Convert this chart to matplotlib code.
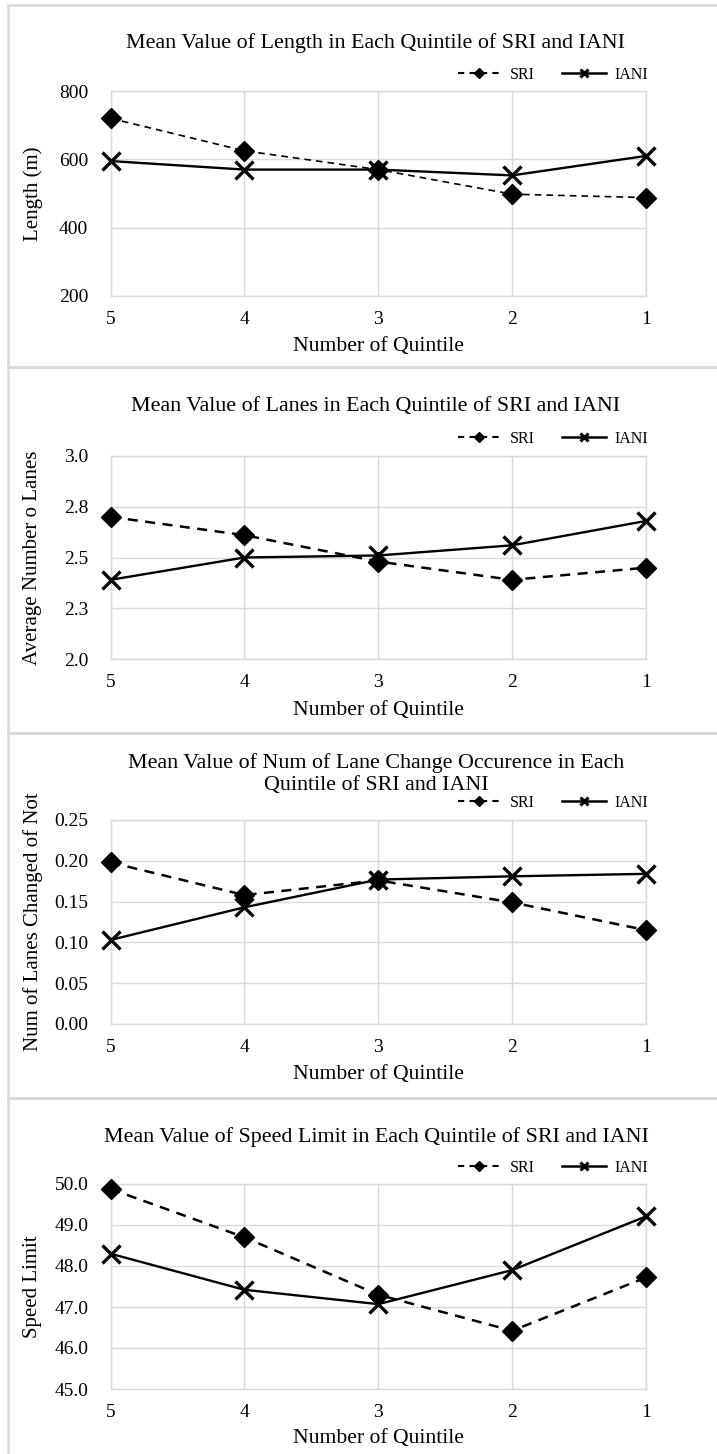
import matplotlib
matplotlib.use("Agg")
import matplotlib.pyplot as plt
from matplotlib.lines import Line2D
from matplotlib.patches import Rectangle

plt.rcParams['font.family'] = ['Liberation Serif', 'DejaVu Serif']

quintiles = ['5', '4', '3', '2', '1']

length_sri = [720, 625, 570, 498, 488]
length_iani = [595, 570, 570, 553, 610]

lanes_sri = [2.70, 2.61, 2.48, 2.39, 2.45]
lanes_iani = [2.39, 2.50, 2.51, 2.56, 2.68]

change_sri = [0.198, 0.158, 0.176, 0.149, 0.115]
change_iani = [0.103, 0.143, 0.177, 0.181, 0.184]

speed_sri = [49.88, 48.70, 47.30, 46.42, 47.72]
speed_iani = [48.30, 47.42, 47.07, 47.90, 49.21]

titles = ["Mean Value of Length in Each Quintile of SRI and IANI",
          "Mean Value of Lanes in Each Quintile of SRI and IANI",
          "Mean Value of Num of Lane Change Occurence in Each\nQuintile of SRI and IANI",
          "Mean Value of Speed Limit in Each Quintile of SRI and IANI"]
ylabels = ["Length (m)", "Average Number o Lanes", "Num of Lanes Changed of Not", "Speed Limit"]
yticks = [[200, 400, 600, 800],
          [2.0, 2.25, 2.5, 2.75, 3.0],
          [0.0, 0.05, 0.10, 0.15, 0.20, 0.25],
          [45.0, 46.0, 47.0, 48.0, 49.0, 50.0]]
yticklabels = [['200', '400', '600', '800'],
               ['2.0', '2.3', '2.5', '2.8', '3.0'],
               ['0.00', '0.05', '0.10', '0.15', '0.20', '0.25'],
               ['45.0', '46.0', '47.0', '48.0', '49.0', '50.0']]
series = [(length_sri, length_iani), (lanes_sri, lanes_iani),
          (change_sri, change_iani), (speed_sri, speed_iani)]

W, H = 717, 1454
fig = plt.figure(figsize=(W / 100, H / 100), dpi=100)

def fx(x):
    return x / W

def fy(y):
    return 1 - y / H

# pixel layout of each panel: (panel top, panel bottom, axes top, axes bottom,
# title y, legend y, xlabel y)
layout = [(5.5, 367, 91, 296, 43, 75, 347),
          (367, 733, 456, 659, 407, 439, 710),
          (733, 1098, 820, 1024, 774, 803, 1075),
          (1098, 1460, 1184, 1389, 1137, 1168, 1439)]

grid_c = '#d9d9d9'
x = list(range(len(quintiles)))

for i, (ptop, pbot, atop, abot, ty, ly, xly) in enumerate(layout):
    fig.add_artist(Rectangle((fx(7.5), fy(pbot)), fx(730), (pbot - ptop) / H,
                             transform=fig.transFigure, fill=False,
                             edgecolor=grid_c, lw=1.8))
    ax = fig.add_axes([fx(110.5), fy(abot), (646 - 110.5) / W, (abot - atop) / H])
    sri, iani = series[i]
    lw_d = 1.2 if i == 0 else 1.8
    ax.plot(x, sri, color='black', lw=lw_d, ls=(0, (4, 3)), marker='D',
            ms=10.5, clip_on=False, zorder=3)
    ax.plot(x, iani, color='black', lw=1.7, marker='x', ms=13, mew=2.4,
            clip_on=False, zorder=4)
    ax.set_xlim(0, 4)
    ax.set_ylim(yticks[i][0], yticks[i][-1])
    ax.set_xticks(x)
    ax.set_xticklabels(quintiles)
    ax.set_yticks(yticks[i])
    ax.set_yticklabels(yticklabels[i])
    ax.grid(True, color=grid_c, lw=1)
    ax.set_axisbelow(True)
    for s in ax.spines.values():
        s.set_color(grid_c)
        s.set_linewidth(1)
    ax.tick_params(length=0, labelsize=14)
    ax.tick_params(axis='y', pad=16)
    ax.tick_params(axis='x', pad=11)

    fig.text(fx(376), fy(ty), titles[i], ha='center', va='center',
             fontsize=15.8, linespacing=1.15)
    fig.text(fx(378), fy(xly), "Number of Quintile", ha='center', va='center',
             fontsize=15.6)
    fig.text(fx(33), fy((atop + abot) / 2), ylabels[i], ha='center', va='center',
             rotation=90, fontsize=15)

    handles = [Line2D([], [], color='black', lw=1.5, ls=(0, (3, 2.5)), marker='D', ms=5),
               Line2D([], [], color='black', lw=1.8, marker='x', ms=6, mew=2.2)]
    ax.legend(handles, ['SRI', 'IANI'], ncol=2, frameon=False, fontsize=11.5,
              loc='center right', bbox_to_anchor=(fx(656), fy(ly)),
              bbox_transform=fig.transFigure, borderpad=0, handlelength=2.7,
              handletextpad=0.55, columnspacing=1.75)

fig.savefig('out.png', dpi=100)
